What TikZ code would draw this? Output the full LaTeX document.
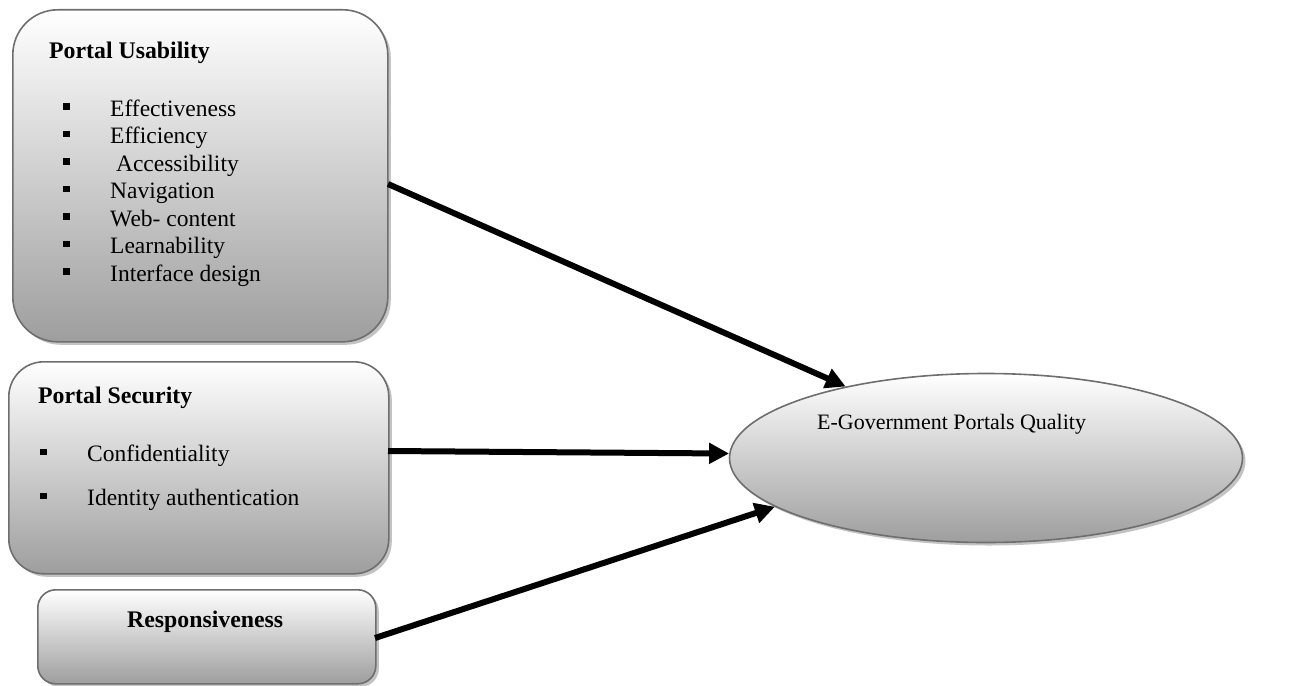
\documentclass[tikz,border=0pt]{standalone}
\usepackage{fontspec}
\setmainfont{Liberation Serif}
\usetikzlibrary{shapes.geometric,arrows.meta,shadows}
\definecolor{bordergray}{RGB}{110,110,110}
\definecolor{shadegray}{RGB}{158,158,158}
\definecolor{shadowgray}{RGB}{195,195,195}
\begin{document}
\begin{tikzpicture}[x=1pt,y=-1pt,
  box/.style={draw=bordergray, line width=1.6pt, top color=white, bottom color=shadegray,
    inner sep=0pt, anchor=north west,
    drop shadow={shadow xshift=3pt, shadow yshift=-3pt, fill=shadowgray, opacity=1}},
  txt/.style={anchor=base west, inner sep=0pt, font=\fontsize{23.5}{27}\selectfont},
  btxt/.style={txt, font=\fontsize{23.8}{27}\selectfont\bfseries},
  bul/.style={fill=black},
  conn/.style={line width=6pt, -{Triangle[length=20pt,width=20pt]}}]
\useasboundingbox (0,0) rectangle (1289,685);
% boxes
\node[box, rounded corners=45pt, minimum width=375pt, minimum height=332pt] (usab) at (12,9) {};
\node[box, rounded corners=35pt, minimum width=380pt, minimum height=212pt] (secu) at (8,361) {};
\node[box, rounded corners=18pt, minimum width=338pt, minimum height=94pt] (resp) at (37,589) {};
\node[draw=bordergray, line width=1.6pt, ellipse, top color=white, bottom color=shadegray,
  minimum width=513pt, minimum height=169pt, inner sep=0pt,
  drop shadow={shadow xshift=3pt, shadow yshift=-3pt, fill=shadowgray, opacity=1}] (qual) at (986,458) {};
% texts
\node[btxt] (tu) at (49,59) {Portal Usability};
\node[txt] (u1) at (110,116) {Effectiveness};
\node[txt] (u2) at (110,143.5) {Efficiency};
\node[txt] (u3) at (110,171) {\ Accessibility};
\node[txt] (u4) at (110,198.5) {Navigation};
\node[txt] (u5) at (110,226) {Web- content};
\node[txt] (u6) at (110,253.5) {Learnability};
\node[txt] (u7) at (110,281) {Interface design};
\foreach \y in {116,143.5,171,198.5,226,253.5,281}
  \fill[bul] (63,\y-13) rectangle (70,\y-6.5);
\node[btxt] (ts) at (38,403) {Portal Security};
\node[txt] (s1t) at (87,461) {Confidentiality};
\node[txt] (s2t) at (87,505) {Identity authentication};
\foreach \y in {461,505}
  \fill[bul] (40,\y-12.5) rectangle (47,\y-6);
\node[btxt] (tr) at (127,627) {Responsiveness};
\node[txt, font=\fontsize{22}{26}\selectfont] (tq) at (817,429) {E-Government Portals Quality};
% connectors
\coordinate (a1) at (388,184);
\coordinate (a2) at (388,451);
\coordinate (a3) at (375,638);
\draw[conn] (a1) -- (qual.153);
\draw[conn] (a2) -- (qual.179);
\draw[conn] (a3) -- (qual.193);
\end{tikzpicture}
\end{document}
